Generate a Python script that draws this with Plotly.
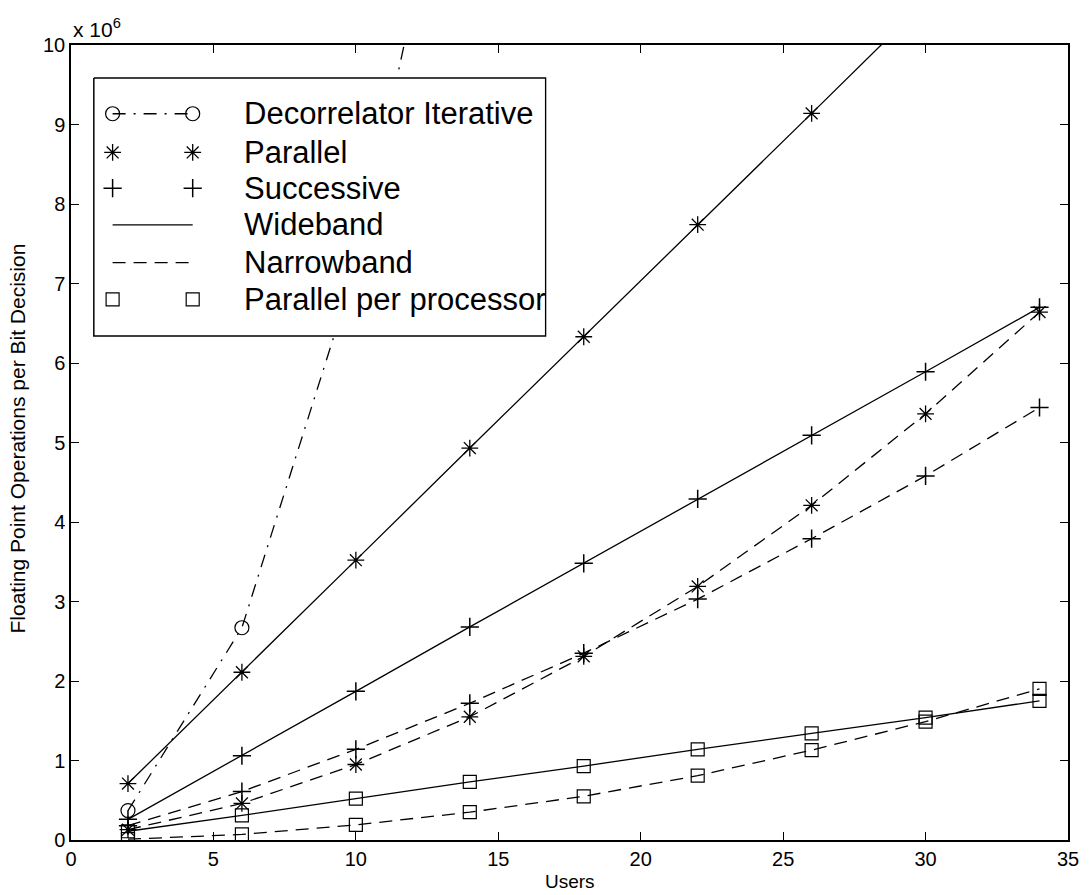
import plotly.graph_objects as go

# ---------------- data (values in units of 1e6 flops) ----------------
users = [2, 6, 10, 14, 18, 22, 26, 30, 34]
decor_users = [2, 6, 10, 14]
decor_iter = [0.37, 2.67, 7.21, 13.8]

par_wide = [0.71, 2.11, 3.52, 4.93, 6.33, 7.74, 9.14, 10.55, 11.95]
suc_wide = [0.26, 1.06, 1.87, 2.68, 3.48, 4.29, 5.09, 5.89, 6.70]
par_narrow = [0.13, 0.46, 0.95, 1.55, 2.31, 3.19, 4.21, 5.36, 6.64]
suc_narrow = [0.18, 0.61, 1.14, 1.72, 2.35, 3.03, 3.79, 4.58, 5.44]
pp_wide = [0.11, 0.31, 0.52, 0.73, 0.93, 1.14, 1.34, 1.54, 1.75]
pp_narrow = [0.01, 0.07, 0.19, 0.35, 0.55, 0.81, 1.13, 1.49, 1.90]

x_ticks = [0, 5, 10, 15, 20, 25, 30, 35]
y_ticks = [0, 1, 2, 3, 4, 5, 6, 7, 8, 9, 10]

legend_labels = ["Decorrelator Iterative", "Parallel", "Successive",
                 "Wideband", "Narrowband", "Parallel per processor"]

# ---------------- styles ----------------
FONT = "Liberation Sans, Arial, Helvetica, sans-serif"
LW = 1.3
DASH = "13px,8px"
DASHDOT = "13px,8px,2px,8px"
MK = {
    "circle": dict(symbol="circle-open", size=14, color="black", line=dict(width=1.2, color="black")),
    "star": dict(symbol="asterisk-open", size=14, color="black", line=dict(width=1.3, color="black")),
    "plus": dict(symbol="cross-thin-open", size=13, color="black", line=dict(width=1.5, color="black")),
    "square": dict(symbol="square-open", size=13, color="black", line=dict(width=1.2, color="black")),
}

fig = go.Figure()

series = [
    (decor_users, decor_iter, DASHDOT, "circle"),
    (users, par_wide, "solid", "star"),
    (users, suc_wide, "solid", "plus"),
    (users, par_narrow, DASH, "star"),
    (users, suc_narrow, DASH, "plus"),
    (users, pp_wide, "solid", "square"),
    (users, pp_narrow, DASH, "square"),
]
for xs, ys, dash, mk in series:
    fig.add_trace(go.Scatter(
        x=xs, y=ys, mode="lines+markers",
        line=dict(color="black", width=LW, dash=dash),
        marker=MK[mk], showlegend=False, hoverinfo="skip",
        xaxis="x", yaxis="y"))

# ---------------- custom MATLAB-style legend on an overlay axis ----------------
LW_BOX, LH_BOX = 457, 260
fig.add_trace(go.Scatter(
    x=[0, LW_BOX, LW_BOX, 0, 0], y=[0, 0, LH_BOX, LH_BOX, 0],
    mode="lines", fill="toself", fillcolor="white",
    line=dict(color="black", width=1.5), showlegend=False,
    hoverinfo="skip", xaxis="x2", yaxis="y2"))

row_y = [36, 75, 111, 148, 186, 223]
x0, x1, xt = 19, 100, 150
legend_styles = [
    (DASHDOT, "circle"),
    (None, "star"),
    (None, "plus"),
    ("solid", None),
    (DASH, None),
    (None, "square"),
]
for (dash, mk), yy, lab in zip(legend_styles, row_y, legend_labels):
    if dash is not None:
        fig.add_trace(go.Scatter(
            x=[x0, x1], y=[yy, yy], mode="lines",
            line=dict(color="black", width=LW, dash=dash),
            showlegend=False, hoverinfo="skip", xaxis="x2", yaxis="y2"))
    if mk is not None:
        fig.add_trace(go.Scatter(
            x=[x0, x1], y=[yy, yy], mode="markers", marker=MK[mk],
            showlegend=False, hoverinfo="skip", xaxis="x2", yaxis="y2"))
    fig.add_annotation(x=xt, y=yy, xref="x2", yref="y2", text=lab,
                       showarrow=False, xanchor="left", yanchor="middle",
                       font=dict(family=FONT, size=31, color="black"))

axis_common = dict(
    showline=True, linecolor="black", linewidth=1.5, mirror="ticks",
    ticks="inside", ticklen=8, tickwidth=1.2, tickcolor="black",
    showgrid=False, zeroline=False,
    tickfont=dict(family=FONT, size=20, color="black"),
)

fig.update_layout(
    width=1091, height=895, autosize=False,
    margin=dict(l=71, r=16, t=45, b=55),
    paper_bgcolor="white", plot_bgcolor="white",
    xaxis=dict(range=[0, 35], tickvals=x_ticks, domain=[0, 1], anchor="y", **axis_common),
    yaxis=dict(range=[0, 10], tickvals=y_ticks, domain=[0, 1], anchor="x", **axis_common),
    xaxis2=dict(domain=[0.0219, 0.4771], range=[-1, LW_BOX + 1], anchor="y2",
                visible=False, fixedrange=True),
    yaxis2=dict(domain=[0.6327, 0.9597], range=[LH_BOX + 1, -1], anchor="x2",
                visible=False, fixedrange=True),
    showlegend=False,
)

fig.add_annotation(text="Users", x=0.5, y=0, xref="paper", yref="paper",
                   xanchor="center", yanchor="top", yshift=-29, showarrow=False,
                   font=dict(family=FONT, size=19, color="black"))
fig.add_annotation(text="Floating Point Operations per Bit Decision", x=0, y=0.505,
                   xref="paper", yref="paper", xanchor="center", yanchor="middle",
                   xshift=-53, textangle=-90, showarrow=False,
                   font=dict(family=FONT, size=21, color="black"))
fig.add_annotation(text="x 10<sup>6</sup>", x=0, y=1, xref="paper", yref="paper",
                   xanchor="left", yanchor="bottom", yshift=2, showarrow=False,
                   font=dict(family=FONT, size=21, color="black"))

fig.write_html("out.html")
